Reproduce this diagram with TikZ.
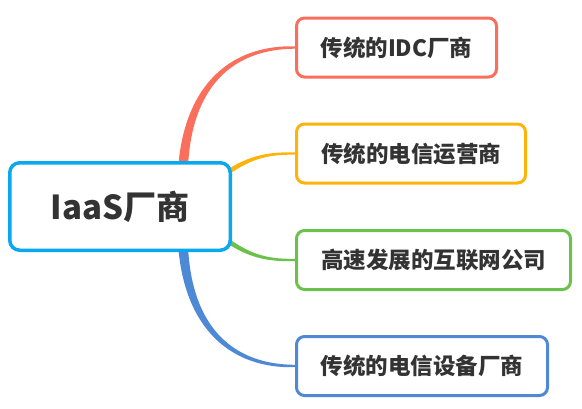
\documentclass[tikz,border=0pt]{standalone}
\usepackage{fontspec}
\setmainfont{Noto Sans CJK SC}
\usetikzlibrary{calc,backgrounds}
\definecolor{txt}{HTML}{333333}
\definecolor{rootc}{HTML}{0AA8EE}
\definecolor{redc}{HTML}{FA6E5C}
\definecolor{orc}{HTML}{FDB30A}
\definecolor{grc}{HTML}{6CC04C}
\definecolor{blc}{HTML}{4E89D5}
\tikzset{
  rootbox/.style={draw=rootc, line width=3.5pt, rounded corners=10pt, fill=white,
    minimum width=220.5pt, minimum height=87.5pt, inner sep=0pt,
    font=\fontsize{33}{36}\selectfont\bfseries, text=txt},
  leafbox/.style={draw=#1, line width=3pt, rounded corners=8pt, fill=white,
    minimum height=59pt, inner sep=0pt,
    font=\fontsize{22.5}{24}\selectfont\bfseries, text=txt},
}
\begin{document}
\begin{tikzpicture}[x=1pt,y=1pt]
\useasboundingbox (0,0) rectangle (582,-408);
\node[rootbox] (root) at (120,-206.5) {IaaS厂商};
\node[leafbox=redc, minimum width=200pt] (b1) at (396.5,-47.5) {传统的IDC厂商};
\node[leafbox=orc, minimum width=229pt] (b2) at (411,-153.5) {传统的电信运营商};
\node[leafbox=grc, minimum width=274pt] (b3) at (433.5,-260) {高速发展的互联网公司};
\node[leafbox=blc, minimum width=251pt] (b4) at (422,-366) {传统的电信设备厂商};
\begin{scope}[on background layer]
% red
\fill[redc] ($(root.center)+(60.5,-24.1)$) .. controls (164.5,-110.4) and (212.5,-44.3) .. ($(b1.west)+(0,1.2)$)
  -- ($(b1.west)+(0,-1.2)$) .. controls (215.5,-49.2) and (174.5,-109.6) .. ($(root.center)+(71.5,-22.9)$) -- cycle;
% blue
\fill[blc] ($(root.center)+(60.5,24.1)$) .. controls (164.5,-303.1) and (212.5,-369.2) .. ($(b4.west)+(0,-1.2)$)
  -- ($(b4.west)+(0,1.2)$) .. controls (215.5,-364.3) and (174.5,-303.9) .. ($(root.center)+(71.5,22.9)$) -- cycle;
% orange
\fill[orc] ($(root.center)+(100.6,32.5)$) .. controls (246.8,-156.2) and (265,-151.8) .. ($(b2.west)+(0,1.2)$)
  -- ($(b2.west)+(0,-1.2)$) .. controls (265,-154.2) and (249.2,-159.8) .. ($(root.center)+(103.4,28.5)$) -- cycle;
% green
\fill[grc] ($(root.center)+(100.6,-32.5)$) .. controls (246.8,-257.3) and (265,-261.7) .. ($(b3.west)+(0,-1.2)$)
  -- ($(b3.west)+(0,1.2)$) .. controls (265,-259.3) and (249.2,-253.7) .. ($(root.center)+(103.4,-28.5)$) -- cycle;
\end{scope}
\end{tikzpicture}
\end{document}
